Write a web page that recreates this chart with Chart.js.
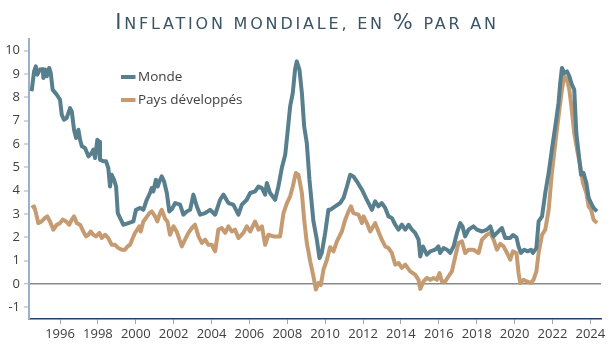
<!DOCTYPE html>
<html>
<head>
<meta charset="utf-8">
<script src="https://cdn.jsdelivr.net/npm/chart.js@4/dist/chart.umd.min.js"></script>
<style>
  html, body { margin: 0; padding: 0; background: #ffffff; }
  #wrap { position: relative; width: 614px; height: 351px; overflow: hidden; }
  #title {
    position: absolute; top: 10px; left: 0; width: 614px; text-align: center;
    font-family: "DejaVu Sans", sans-serif; font-size: 16px; line-height: 24px;
    letter-spacing: 2.8px; color: #3b5465; white-space: nowrap; text-transform: uppercase;
  }
  #title .big { font-size: 21px; }
  canvas { position: absolute; left: 0; top: 0; }
</style>
</head>
<body>
<div id="wrap">
  <canvas id="c" width="614" height="351"></canvas>
  <div id="title"><span class="big">I</span>nflation mondiale, en <span class="big">%</span> par an</div>
</div>
<script>
// ---- Data ----
const seriesNames = ["Monde", "Pays développés"];

const mondeYears = [1994.50,1994.63,1994.72,1994.80,1994.94,1995.09,1995.12,1995.22,1995.30,1995.43,1995.51,1995.61,1995.83,1996.00,1996.09,1996.21,1996.35,1996.53,1996.62,1996.74,1996.85,1996.97,1997.06,1997.15,1997.32,1997.50,1997.67,1997.76,1997.85,1997.97,1998.06,1998.11,1998.29,1998.43,1998.55,1998.64,1998.73,1998.85,1998.96,1999.05,1999.17,1999.34,1999.61,1999.87,2000.01,2000.23,2000.40,2000.58,2000.75,2000.84,2000.93,2001.06,2001.16,2001.25,2001.37,2001.49,2001.64,2001.77,2001.90,2002.08,2002.34,2002.51,2002.69,2002.87,2003.04,2003.22,2003.40,2003.66,2003.92,2004.19,2004.45,2004.63,2004.89,2005.15,2005.42,2005.60,2005.86,2006.04,2006.30,2006.48,2006.66,2006.83,2006.92,2007.09,2007.36,2007.53,2007.71,2007.89,2008.01,2008.15,2008.29,2008.41,2008.50,2008.64,2008.77,2008.89,2009.03,2009.17,2009.38,2009.56,2009.70,2009.82,2010.00,2010.17,2010.26,2010.53,2010.79,2010.97,2011.15,2011.32,2011.49,2011.67,2011.94,2012.20,2012.47,2012.64,2012.81,2012.99,2013.17,2013.34,2013.52,2013.70,2013.87,2014.05,2014.23,2014.40,2014.58,2014.75,2014.93,2015.02,2015.16,2015.37,2015.55,2015.81,2015.98,2016.07,2016.25,2016.43,2016.60,2016.78,2016.96,2017.13,2017.25,2017.39,2017.57,2017.83,2018.01,2018.28,2018.54,2018.72,2018.89,2019.07,2019.33,2019.51,2019.77,2019.91,2020.10,2020.21,2020.34,2020.51,2020.69,2020.87,2020.97,2021.15,2021.27,2021.45,2021.62,2021.80,2021.97,2022.15,2022.32,2022.41,2022.50,2022.62,2022.77,2022.89,2023.03,2023.15,2023.26,2023.38,2023.51,2023.64,2023.79,2023.91,2024.04,2024.17,2024.35];
const mondeValues = [8.26,9.11,9.33,8.97,9.19,9.21,8.83,9.19,8.90,9.26,9.04,8.33,8.11,7.90,7.26,7.04,7.11,7.54,7.40,6.61,6.26,6.61,6.18,5.90,5.83,5.47,5.61,5.76,5.40,6.18,6.10,5.33,5.26,5.26,4.97,4.18,4.68,4.47,4.18,3.04,2.83,2.54,2.61,2.68,3.18,3.26,3.18,3.61,3.90,4.11,3.97,4.47,4.18,4.40,4.61,4.40,3.90,3.11,3.20,3.47,3.40,2.97,3.11,3.18,3.83,3.33,2.97,3.04,3.18,2.97,3.61,3.83,3.47,3.40,2.97,3.40,3.61,3.90,3.97,4.18,4.11,3.83,4.33,3.90,3.61,4.18,4.97,5.54,6.47,7.61,8.19,9.19,9.54,9.19,8.19,6.76,6.04,4.47,2.68,1.90,1.11,1.33,2.19,3.18,3.18,3.33,3.47,3.69,4.18,4.68,4.61,4.40,4.04,3.61,3.18,3.54,3.33,3.47,3.26,2.90,2.83,2.54,2.33,2.54,2.33,2.54,2.33,2.19,1.90,1.18,1.61,1.26,1.40,1.47,1.61,1.33,1.54,1.47,1.33,1.61,2.19,2.61,2.47,2.04,2.33,2.47,2.33,2.25,2.33,2.47,2.04,2.19,2.40,1.97,1.97,2.10,2.00,1.61,1.33,1.47,1.40,1.47,1.33,1.54,2.68,2.90,3.90,4.76,5.76,6.76,7.76,8.61,9.26,9.04,9.11,8.90,8.54,8.33,6.47,5.61,4.68,4.76,4.33,3.69,3.47,3.26,3.11];

const devYears = [1994.50,1994.63,1994.73,1994.85,1995.03,1995.21,1995.33,1995.47,1995.65,1995.83,1996.00,1996.14,1996.32,1996.49,1996.62,1996.74,1996.88,1997.06,1997.23,1997.37,1997.50,1997.62,1997.76,1997.90,1998.08,1998.20,1998.38,1998.55,1998.73,1998.91,1999.08,1999.26,1999.43,1999.56,1999.70,1999.84,1999.96,2000.08,2000.19,2000.26,2000.40,2000.54,2000.72,2000.84,2001.02,2001.14,2001.28,2001.37,2001.55,2001.67,2001.81,2001.99,2002.16,2002.43,2002.60,2002.78,2002.96,2003.13,2003.31,2003.49,2003.66,2003.83,2004.01,2004.19,2004.36,2004.54,2004.72,2004.89,2005.07,2005.24,2005.42,2005.68,2005.86,2006.04,2006.30,2006.48,2006.66,2006.83,2007.00,2007.27,2007.62,2007.80,2007.98,2008.15,2008.29,2008.45,2008.59,2008.77,2008.89,2009.03,2009.21,2009.38,2009.51,2009.65,2009.77,2009.91,2010.09,2010.26,2010.44,2010.62,2010.88,2011.06,2011.23,2011.36,2011.49,2011.76,2011.94,2012.03,2012.20,2012.38,2012.64,2012.81,2012.99,2013.17,2013.34,2013.52,2013.70,2013.87,2014.05,2014.23,2014.49,2014.75,2014.93,2015.02,2015.19,2015.37,2015.55,2015.72,2015.90,2016.04,2016.16,2016.34,2016.51,2016.69,2016.87,2017.04,2017.22,2017.39,2017.57,2017.83,2018.10,2018.28,2018.54,2018.72,2018.89,2019.07,2019.24,2019.42,2019.60,2019.77,2019.91,2020.10,2020.21,2020.30,2020.47,2020.65,2020.87,2021.00,2021.15,2021.27,2021.45,2021.62,2021.80,2021.97,2022.15,2022.32,2022.50,2022.62,2022.77,2022.89,2022.99,2023.15,2023.30,2023.47,2023.61,2023.79,2023.91,2024.04,2024.17,2024.35];
const devValues = [3.26,3.33,3.04,2.61,2.68,2.83,2.90,2.68,2.33,2.54,2.61,2.76,2.68,2.54,2.76,2.90,2.61,2.54,2.25,2.04,2.11,2.25,2.11,2.04,2.19,1.97,2.11,1.97,1.68,1.68,1.54,1.47,1.47,1.61,1.68,1.97,2.19,2.33,2.47,2.25,2.68,2.83,3.04,3.11,2.90,2.68,3.04,3.18,2.80,2.68,2.11,2.47,2.25,1.61,1.90,2.19,2.40,2.54,2.04,1.76,1.90,1.68,1.68,1.40,2.33,2.40,2.19,2.47,2.25,2.33,1.97,2.19,2.47,2.25,2.68,2.33,2.47,1.68,2.11,2.04,2.04,3.04,3.47,3.76,4.18,4.76,4.68,3.90,2.76,1.76,0.97,0.33,-0.24,0.04,-0.04,0.61,1.04,1.58,1.40,1.83,2.25,2.76,3.11,3.33,3.04,2.97,2.61,2.90,2.61,2.25,2.61,2.25,1.90,1.61,1.54,1.33,0.83,0.90,0.69,0.83,0.54,0.40,0.18,-0.21,0.11,0.26,0.18,0.26,0.18,0.47,0.11,0.11,0.33,0.54,1.18,1.76,1.83,1.33,1.47,1.47,1.33,1.90,2.11,2.19,1.90,1.47,1.72,1.61,1.33,1.04,1.40,1.33,0.47,0.04,0.18,0.11,0.04,0.18,0.54,1.33,2.11,2.33,3.18,4.76,6.04,7.18,8.33,8.90,8.76,8.33,7.69,6.47,5.76,5.04,4.33,3.90,3.33,3.18,2.76,2.61];

const xTickYears = [1996,1998,2000,2002,2004,2006,2008,2010,2012,2014,2016,2018,2020,2022,2024];
const yTickValues = [-1,0,1,2,3,4,5,6,7,8,9,10];

// ---- Styles ----
const colMonde = "#587f8d";
const colDev = "#c59b72";
const tickFont = { family: "'Open Sans', sans-serif", size: 13 };

function toPoints(xs, ys) { return xs.map((x, i) => ({ x: x, y: ys[i] })); }

const insideLegend = {
  id: "insideLegend",
  afterDraw(chart) {
    const ctx = chart.ctx;
    const x0 = 121, x1 = 135.5, tx = 138;
    const rows = [77, 100];
    ctx.save();
    chart.data.datasets.forEach((ds, i) => {
      const y = rows[i];
      ctx.strokeStyle = ds.borderColor;
      ctx.lineWidth = 4;
      ctx.lineCap = "butt";
      ctx.beginPath(); ctx.moveTo(x0, y); ctx.lineTo(x1, y); ctx.stroke();
      ctx.fillStyle = "#404040";
      ctx.font = "13.5px 'Open Sans', sans-serif";
      ctx.textBaseline = "middle";
      ctx.textAlign = "left";
      ctx.fillText(ds.label, tx, y);
    });
    ctx.restore();
  }
};

new Chart(document.getElementById("c"), {
  type: "line",
  data: {
    datasets: [
      { label: seriesNames[0], data: toPoints(mondeYears, mondeValues), borderColor: colMonde,
        backgroundColor: colMonde, borderWidth: 4, pointRadius: 0, tension: 0, borderJoinStyle: "round" },
      { label: seriesNames[1], data: toPoints(devYears, devValues), borderColor: colDev,
        backgroundColor: colDev, borderWidth: 4, pointRadius: 0, tension: 0, borderJoinStyle: "round" }
    ]
  },
  options: {
    responsive: false,
    animation: false,
    devicePixelRatio: 1,
    layout: { padding: { top: 39, right: 13, left: 0, bottom: 0 } },
    plugins: { legend: { display: false }, title: { display: false }, tooltip: { enabled: false } },
    scales: {
      x: {
        type: "linear",
        min: 1994.362, max: 2024.563,
        afterBuildTicks: (s) => { s.ticks = xTickYears.map(v => ({ value: v })); },
        afterFit: (s) => { s.height = 32; },
        ticks: { autoSkip: false, maxRotation: 0, minRotation: 0, padding: 2, color: "#404040", font: tickFont,
                 callback: (v) => String(v) },
        grid: { drawOnChartArea: false, drawTicks: true, tickLength: 5, tickColor: "#a6a6a6", tickWidth: 1 },
        border: { display: true, color: "#22406c", width: 1.5 }
      },
      y: {
        type: "linear",
        min: -1.5, max: 10.5,
        afterBuildTicks: (s) => { s.ticks = yTickValues.map(v => ({ value: v })); },
        afterFit: (s) => { s.width = 29; },
        ticks: { padding: 4, color: "#404040", font: tickFont, callback: (v) => String(v) },
        grid: {
          drawOnChartArea: true, drawTicks: true, tickLength: 5, tickColor: "#9cb0c9", tickWidth: 1,
          color: (c) => (c.tick && c.tick.value === 0) ? "#8a8a8a" : "rgba(0,0,0,0)",
          lineWidth: (c) => (c.tick && c.tick.value === 0) ? 1.5 : 0
        },
        border: { display: true, color: "#9cb0c9", width: 2 }
      }
    }
  },
  plugins: [insideLegend]
});
</script>
</body>
</html>
